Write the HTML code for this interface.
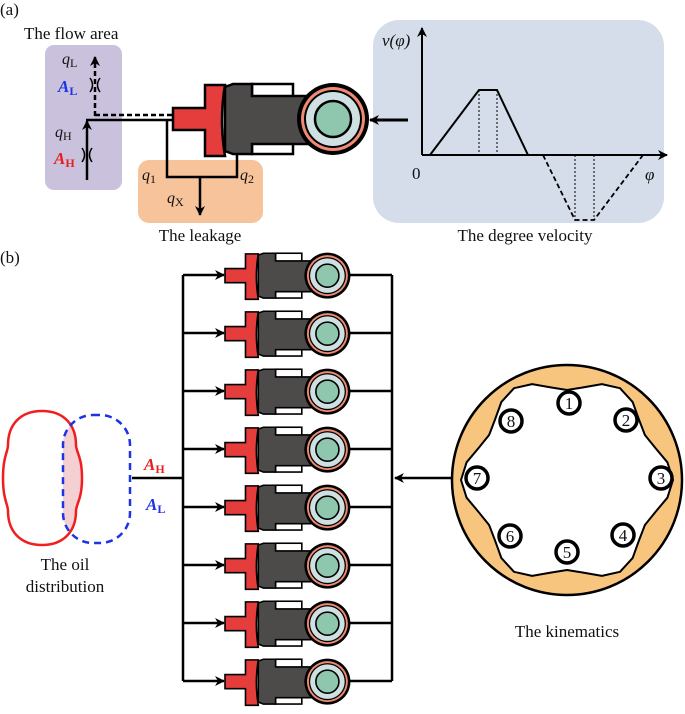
<!DOCTYPE html>
<html><head><meta charset="utf-8"><style>
html,body{margin:0;padding:0;background:#fff}
svg text{font-family:"Liberation Serif","DejaVu Serif",serif;fill:#111}
</style></head><body>
<svg width="685" height="709" viewBox="0 0 685 709" xmlns="http://www.w3.org/2000/svg" font-family="Liberation Serif, DejaVu Serif, serif">
<defs>
<marker id="ah" markerWidth="10" markerHeight="10" refX="9" refY="5" orient="auto" markerUnits="userSpaceOnUse">
<path d="M0,0 L10,5 L0,10 L3,5 Z" fill="#000"/></marker>
<g id="pis">
<rect x="79" y="-34" width="41" height="70" fill="#fff" stroke="#000" stroke-width="2.5"/>
<path d="M52,-31 L60,-34 L79,-34 L79,-22 L160,-22 L160,26 L79,26 L79,36 L60,36 L52,33 Z" fill="#4d4a4a" stroke="#000" stroke-width="2.5"/>
<path d="M0,-10 L32,-10 L32,-33 L52,-33 Q46,2 52,38 L32,38 L32,12 L0,12 Z" fill="#e53c3c" stroke="#000" stroke-width="2.5"/>
<circle cx="160" cy="1" r="36" fill="#000"/>
<circle cx="160" cy="1" r="32" fill="#f08a72"/>
<circle cx="160" cy="1" r="29" fill="#000"/>
<circle cx="160" cy="1" r="27" fill="#cfe0e2"/>
<circle cx="160" cy="1" r="18" fill="#8ec7ae" stroke="#000" stroke-width="2.5"/>
</g>
<clipPath id="bc"><rect x="63" y="415" width="67" height="128" rx="30"/></clipPath>
</defs>

<text x="0" y="15" font-size="17">(a)</text>
<text x="24" y="39" font-size="17">The flow area</text>
<rect x="45" y="45" width="77" height="145" rx="9" fill="#cac2dc"/>
<rect x="138" y="160" width="125" height="63" rx="11" fill="#f6c39a"/>
<rect x="373" y="20" width="291" height="203" rx="26" fill="#d4dde9"/>

<line x1="87" y1="180" x2="87" y2="121" stroke="#000" stroke-width="2.5" marker-end="url(#ah)"/>
<line x1="86" y1="120" x2="173" y2="120" stroke="#000" stroke-width="2.5"/>
<line x1="95" y1="115" x2="173" y2="115" stroke="#000" stroke-width="2.5" stroke-dasharray="5,3"/>
<line x1="95" y1="116" x2="95" y2="57" stroke="#000" stroke-width="2.5" stroke-dasharray="5,3" marker-end="url(#ah)"/>
<path d="M82,148 Q87,155 82,162 M92,148 Q87,155 92,162" fill="none" stroke="#000" stroke-width="1.5"/>
<path d="M90,78 Q95,85 90,92 M100,78 Q95,85 100,92" fill="none" stroke="#000" stroke-width="1.5"/>
<text x="55" y="137" font-size="16" font-style="italic">q<tspan font-size="12" font-style="normal" dy="3">H</tspan></text>
<text x="62" y="64" font-size="16" font-style="italic">q<tspan font-size="12" font-style="normal" dy="3">L</tspan></text>
<text x="58" y="92" font-size="17" font-style="italic" font-weight="bold" style="fill:#1e32e6">A<tspan font-size="12" font-style="normal" dy="3" style="fill:#1e32e6">L</tspan></text>
<text x="54" y="164" font-size="17" font-style="italic" font-weight="bold" style="fill:#e61e1e">A<tspan font-size="12" font-style="normal" dy="3" style="fill:#e61e1e">H</tspan></text>
<polyline points="167,120 167,177 237,177 237,152" fill="none" stroke="#000" stroke-width="2.5"/>
<line x1="200" y1="177" x2="200" y2="215" stroke="#000" stroke-width="2.5" marker-end="url(#ah)"/>
<use href="#pis" transform="translate(173,118)"/>
<text x="142" y="180" font-size="16" font-style="italic">q<tspan font-size="12" font-style="normal" dy="3">1</tspan></text>
<text x="240" y="180" font-size="16" font-style="italic">q<tspan font-size="12" font-style="normal" dy="3">2</tspan></text>
<text x="167" y="203" font-size="16" font-style="italic">q<tspan font-size="12" font-style="normal" dy="3">X</tspan></text>
<text x="200" y="241" font-size="17" text-anchor="middle">The leakage</text>
<line x1="408" y1="120" x2="370" y2="120" stroke="#000" stroke-width="3" marker-end="url(#ah)"/>

<line x1="422" y1="155" x2="422" y2="28" stroke="#000" stroke-width="2" marker-end="url(#ah)"/>
<line x1="422" y1="155" x2="667" y2="155" stroke="#000" stroke-width="2" marker-end="url(#ah)"/>
<polyline points="430,155 479,90 497,90 528,155" fill="none" stroke="#000" stroke-width="2"/>
<polyline points="543,155 575,220 594,220 643,155" fill="none" stroke="#000" stroke-width="1.8" stroke-dasharray="5,3"/>
<path d="M479,90 V155 M497,90 V155 M575,155 V220 M594,155 V220" stroke="#000" stroke-width="1" stroke-dasharray="2,2"/>
<text x="382" y="46" font-size="17" font-style="italic">v(φ)</text>
<text x="412" y="179" font-size="17">0</text>
<text x="645" y="180" font-size="17" font-style="italic">φ</text>
<text x="525" y="241" font-size="17" text-anchor="middle">The degree velocity</text>

<text x="0" y="263" font-size="17">(b)</text>
<line x1="183" y1="275" x2="183" y2="681" stroke="#000" stroke-width="2.5"/>
<line x1="392" y1="275" x2="392" y2="681" stroke="#000" stroke-width="2.5"/>
<g>
<g transform="translate(0,275)"><line x1="183" y1="0" x2="224" y2="0" stroke="#000" stroke-width="2.5" marker-end="url(#ah)"/><line x1="340" y1="0" x2="392" y2="0" stroke="#000" stroke-width="2.5"/><use href="#pis" transform="translate(225,0) scale(0.64)"/></g>
<g transform="translate(0,333)"><line x1="183" y1="0" x2="224" y2="0" stroke="#000" stroke-width="2.5" marker-end="url(#ah)"/><line x1="340" y1="0" x2="392" y2="0" stroke="#000" stroke-width="2.5"/><use href="#pis" transform="translate(225,0) scale(0.64)"/></g>
<g transform="translate(0,391)"><line x1="183" y1="0" x2="224" y2="0" stroke="#000" stroke-width="2.5" marker-end="url(#ah)"/><line x1="340" y1="0" x2="392" y2="0" stroke="#000" stroke-width="2.5"/><use href="#pis" transform="translate(225,0) scale(0.64)"/></g>
<g transform="translate(0,449)"><line x1="183" y1="0" x2="224" y2="0" stroke="#000" stroke-width="2.5" marker-end="url(#ah)"/><line x1="340" y1="0" x2="392" y2="0" stroke="#000" stroke-width="2.5"/><use href="#pis" transform="translate(225,0) scale(0.64)"/></g>
<g transform="translate(0,507)"><line x1="183" y1="0" x2="224" y2="0" stroke="#000" stroke-width="2.5" marker-end="url(#ah)"/><line x1="340" y1="0" x2="392" y2="0" stroke="#000" stroke-width="2.5"/><use href="#pis" transform="translate(225,0) scale(0.64)"/></g>
<g transform="translate(0,565)"><line x1="183" y1="0" x2="224" y2="0" stroke="#000" stroke-width="2.5" marker-end="url(#ah)"/><line x1="340" y1="0" x2="392" y2="0" stroke="#000" stroke-width="2.5"/><use href="#pis" transform="translate(225,0) scale(0.64)"/></g>
<g transform="translate(0,623)"><line x1="183" y1="0" x2="224" y2="0" stroke="#000" stroke-width="2.5" marker-end="url(#ah)"/><line x1="340" y1="0" x2="392" y2="0" stroke="#000" stroke-width="2.5"/><use href="#pis" transform="translate(225,0) scale(0.64)"/></g>
<g transform="translate(0,681)"><line x1="183" y1="0" x2="224" y2="0" stroke="#000" stroke-width="2.5" marker-end="url(#ah)"/><line x1="340" y1="0" x2="392" y2="0" stroke="#000" stroke-width="2.5"/><use href="#pis" transform="translate(225,0) scale(0.64)"/></g>
</g>

<path d="M42 411 C64 411 76 425 76 445 C76 452 82 456 82 478 C82 500 76 504 76 511 C76 531 64 545 42 545 C20 545 8 531 8 511 C8 504 3 500 3 478 C3 456 8 452 8 445 C8 425 20 411 42 411 Z" fill="#f5d0d2" clip-path="url(#bc)"/>
<path d="M42 411 C64 411 76 425 76 445 C76 452 82 456 82 478 C82 500 76 504 76 511 C76 531 64 545 42 545 C20 545 8 531 8 511 C8 504 3 500 3 478 C3 456 8 452 8 445 C8 425 20 411 42 411 Z" fill="none" stroke="#f01e1e" stroke-width="2.5"/>
<rect x="63" y="415" width="67" height="128" rx="30" fill="none" stroke="#1e32e6" stroke-width="2.5" stroke-dasharray="7,5"/>
<line x1="132" y1="478" x2="183" y2="478" stroke="#000" stroke-width="2.5"/>
<text x="144" y="470" font-size="17" font-style="italic" font-weight="bold" style="fill:#e61e1e">A<tspan font-size="12" font-style="normal" dy="3" style="fill:#e61e1e">H</tspan></text>
<text x="146" y="510" font-size="17" font-style="italic" font-weight="bold" style="fill:#1e32e6">A<tspan font-size="12" font-style="normal" dy="3" style="fill:#1e32e6">L</tspan></text>
<text x="65" y="570" font-size="17" text-anchor="middle">The oil</text>
<text x="65" y="592" font-size="17" text-anchor="middle">distribution</text>

<line x1="453" y1="478" x2="395" y2="478" stroke="#000" stroke-width="2.5" marker-end="url(#ah)"/>
<circle cx="567" cy="480" r="115" fill="#f8c57f" stroke="#000" stroke-width="2.5"/>
<polygon points="673,480 667.4,462.3 655.3,447.9 644.9,435 639,419.6 632.6,401.9 620,388.2 601.9,384.1 583.3,387.4 567,390 550.7,387.4 532.1,384.1 514,388.2 501.4,401.9 495,419.6 489.1,435 478.7,447.9 466.6,462.3 461,480 466.6,497.7 478.7,512.1 489.1,525 495,540.4 501.4,558.1 514,571.8 532.1,575.9 550.7,572.6 567,570 583.3,572.6 601.9,575.9 620,571.8 632.6,558.1 639,540.4 644.9,525 655.3,512.1 667.4,497.7" fill="#fff" stroke="#000" stroke-width="2" stroke-linejoin="round"/>
<g font-size="17" text-anchor="middle">
<circle cx="569" cy="403" r="11" fill="#fff" stroke="#000" stroke-width="3.5"/><text x="569" y="409">1</text>
<circle cx="626" cy="420" r="11" fill="#fff" stroke="#000" stroke-width="3.5"/><text x="626" y="426">2</text>
<circle cx="661" cy="478" r="11" fill="#fff" stroke="#000" stroke-width="3.5"/><text x="661" y="484">3</text>
<circle cx="623" cy="535" r="11" fill="#fff" stroke="#000" stroke-width="3.5"/><text x="623" y="541">4</text>
<circle cx="567" cy="552" r="11" fill="#fff" stroke="#000" stroke-width="3.5"/><text x="567" y="558">5</text>
<circle cx="510" cy="536" r="11" fill="#fff" stroke="#000" stroke-width="3.5"/><text x="510" y="542">6</text>
<circle cx="477" cy="478" r="11" fill="#fff" stroke="#000" stroke-width="3.5"/><text x="477" y="484">7</text>
<circle cx="511" cy="421" r="11" fill="#fff" stroke="#000" stroke-width="3.5"/><text x="511" y="427">8</text>
</g>
<text x="567" y="637" font-size="17" text-anchor="middle">The kinematics</text>
</svg>
</body></html>
